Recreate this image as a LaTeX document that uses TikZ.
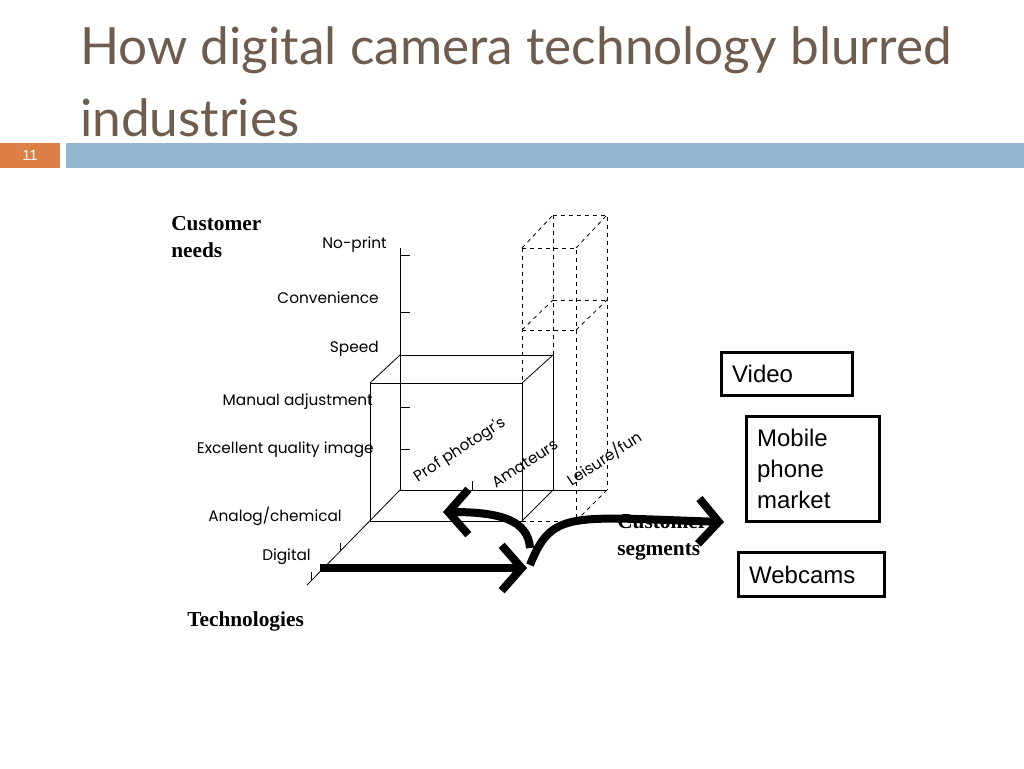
\documentclass[tikz,border=0pt]{standalone}
\usepackage{fontspec}
\setmainfont{Liberation Serif}
\newfontfamily\gfont{Poppins}
\newfontfamily\afont{Liberation Sans}
\newfontfamily\tfont{Lato}
\usetikzlibrary{arrows.meta}
\definecolor{titlec}{HTML}{6E5C4F}
\definecolor{orangec}{HTML}{DD8047}
\definecolor{bluec}{HTML}{94B6D2}
\tikzset{
 lbl/.style={font=\gfont\fontsize{11.5}{13}\selectfont, inner sep=0pt},
 bigl/.style={font=\bfseries\fontsize{16}{20}\selectfont, align=left, inner sep=0pt},
 mbox/.style={draw, line width=2.2pt, font=\afont\fontsize{18}{23}\selectfont, align=left, anchor=north west, inner sep=0pt},
 ax/.style={line width=0.6pt},
 dsh/.style={dashed, line width=0.6pt},
 fat/.style={line width=6pt, -{Straight Barb[length=15pt,width=34pt,line width=6pt]}}
}
\begin{document}
\begin{tikzpicture}[x=0.75pt,y=-0.75pt]
\useasboundingbox (0,0) rectangle (1024,768);
\node[anchor=west, text=titlec, font=\tfont\fontsize{38.5}{44}\selectfont, inner sep=0pt] (t1) at (80,50) {How digital camera technology blurred};
\node[anchor=west, text=titlec, font=\tfont\fontsize{38.5}{44}\selectfont, inner sep=0pt] (t2) at (80,118) {industries};
\fill[orangec] (0,143) rectangle (60,168);
\node[text=white, font=\afont\fontsize{11}{12}\selectfont] (pg) at (30,155) {11};
\fill[bluec] (66,143) rectangle (1024,168);
% axes
\coordinate (O) at (400,490);
\draw[ax] (400,248) -- (O) -- (607,490);
\draw[ax] (O) -- (307,585);
\foreach \y in {255,312,407,449} \draw[ax] (400,\y) -- (410,\y);
\draw[ax] (472,490) -- (472,481);
\draw[ax] (340,551) -- (340,543);
\draw[ax] (311,580) -- (311,572);
% cube
\draw[ax] (400,355) -- (553,355) -- (553,490);
\draw[ax] (370,383) rectangle (522,521);
\draw[ax] (370,383) -- (400,355);
\draw[ax] (522,383) -- (553,355);
\draw[ax] (522,521) -- (553,490);
% tall dashed box
\draw[dsh] (553,215) -- (607,215) -- (607,490);
\draw[dsh] (553,215) -- (553,355);
\draw[dsh] (522,248) -- (576,248) -- (576,521);
\draw[dsh] (522,248) -- (522,440);
\draw[dsh] (522,248) -- (553,215);
\draw[dsh] (576,248) -- (607,215);
\draw[dsh] (522,330) -- (576,330);
\draw[dsh] (553,300) -- (607,300);
\draw[dsh] (522,330) -- (553,300);
\draw[dsh] (576,330) -- (607,300);
\draw[dsh] (576,521) -- (607,490);
\draw[dsh] (522,521) -- (576,521);
% labels
\node[bigl, anchor=north west] (cn) at (171,216) {Customer\\needs};
\node[lbl, anchor=east] (l1) at (387,245) {No-print};
\node[lbl, anchor=east] (l2) at (379,298) {Convenience};
\node[lbl, anchor=east] (l3) at (379,349) {Speed};
\node[lbl, anchor=east] (l4) at (373,402) {Manual adjustment};
\node[lbl, anchor=east] (l5) at (374,450) {Excellent quality image};
\node[lbl, anchor=east] (l6) at (342,516) {Analog/chemical};
\node[lbl, anchor=east] (l7) at (311,557) {Digital};
\node[bigl, anchor=west] (tech) at (187,621) {Technologies};
\node[lbl, rotate=33, anchor=south west] (s1) at (420,486) {Prof photogr's};
\node[lbl, rotate=33, anchor=south west] (s2) at (496,489) {Amateurs};
\node[lbl, rotate=33, anchor=south west] (s3) at (573,489) {Leisure/fun};
\node[bigl, anchor=north west] (cs) at (617,514) {Customer\\segments};
% boxes
\node[mbox, minimum width=130pt*0.75, minimum height=43pt*0.75, text width=110pt*0.75, inner xsep=8pt] (v) at (720,351) {Video};
\node[mbox, minimum width=129pt*0.75, minimum height=105pt*0.75, text width=112pt*0.75, inner xsep=8pt, inner ysep=5pt] (m) at (745,415) {Mobile\\phone\\market};
\node[mbox, minimum width=145pt*0.75, minimum height=44pt*0.75, text width=125pt*0.75, inner xsep=8pt] (w) at (737,551) {Webcams};
% arrows
\coordinate (a1s) at (320,568);
\coordinate (a1e) at (527,568);
\coordinate (a2s) at (530,548);
\coordinate (a2e) at (443,512);
\coordinate (a3s) at (530,565);
\coordinate (a3e) at (724,522);
\draw[fat] (a1s) -- (a1e);
\draw[fat] (a3s) .. controls (552,510) and (570,517) .. (a3e);
\draw[fat] (a2s) .. controls (528,520) and (500,512) .. (a2e);
\end{tikzpicture}
\end{document}
